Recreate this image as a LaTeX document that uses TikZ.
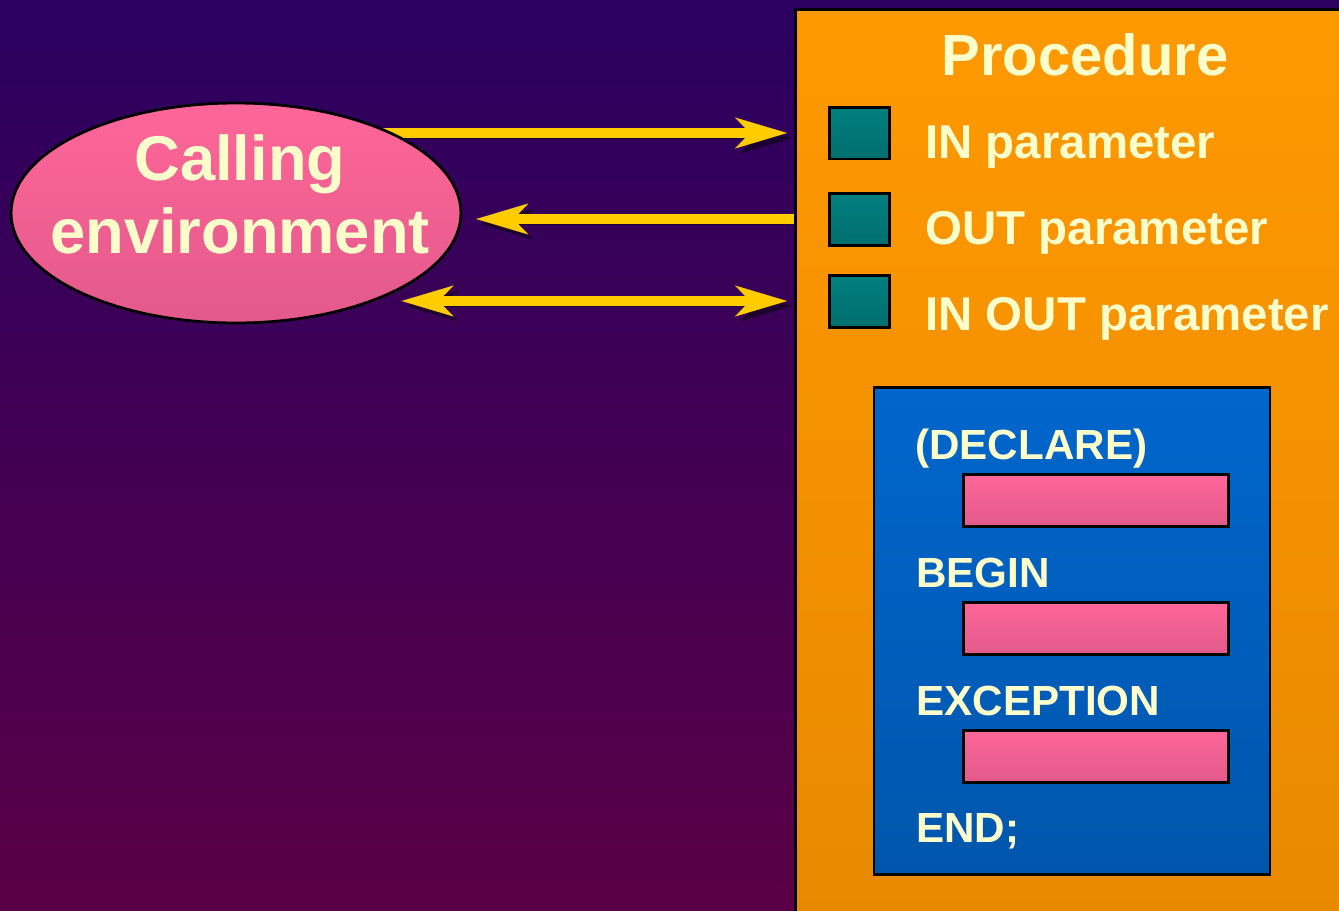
\documentclass[tikz,border=0pt]{standalone}
\usepackage{fontspec}
\setmainfont{Liberation Sans}
\usetikzlibrary{arrows.meta,shapes,calc,positioning}
\definecolor{BgTop}{RGB}{42,0,96}
\definecolor{BgBot}{RGB}{90,0,70}
\definecolor{ProcOrange}{RGB}{255,153,0}
\definecolor{ProcOrangeD}{RGB}{232,137,0}
\definecolor{BlockBlue}{RGB}{0,102,204}
\definecolor{BlockBlueD}{RGB}{0,86,172}
\definecolor{PinkL}{RGB}{255,102,153}
\definecolor{PinkD}{RGB}{226,90,138}
\definecolor{TealL}{RGB}{0,128,128}
\definecolor{TealD}{RGB}{0,110,110}
\definecolor{Cream}{RGB}{255,255,204}
\definecolor{ArrowGold}{RGB}{255,204,0}
\pgfdeclarelayer{back}
\pgfdeclarelayer{wires}
\pgfsetlayers{back,wires,main}
\tikzstyle{flow}     =[draw=ArrowGold, line width=0.2cm,
                       >={Stealth[length=1.04cm,width=0.62cm,inset=0.3cm,line width=0.1pt]},
                       preaction={draw=black, opacity=0.45,
                       transform canvas={shift={(0.1cm,-0.1cm)}}}]
\tikzstyle{procbox}  =[draw=black, line width=0.06cm, top color=ProcOrange,
                       bottom color=ProcOrangeD, anchor=north west, inner sep=0pt]
\tikzstyle{callshape}=[ellipse, draw=black, line width=0.055cm, top color=PinkL,
                       bottom color=PinkD, minimum width=9cm, minimum height=4.4cm,
                       inner sep=0pt]
\tikzstyle{calltext} =[text=Cream, font=\fontsize{36}{41.5}\selectfont\bfseries,
                       align=center]
\tikzstyle{parbox}   =[draw=black, line width=0.06cm, top color=TealL,
                       bottom color=TealD, minimum width=1.2cm, minimum height=1.04cm,
                       inner sep=0pt]
\tikzstyle{blockbox} =[draw=black, line width=0.05cm, top color=BlockBlue,
                       bottom color=BlockBlueD, minimum width=7.92cm,
                       minimum height=9.74cm, inner sep=0pt]
\tikzstyle{codebar}  =[draw=black, line width=0.06cm, top color=PinkL,
                       bottom color=PinkD, minimum width=5.3cm, minimum height=1.04cm,
                       inner sep=0pt]
\tikzstyle{headline} =[text=Cream, font=\fontsize{33}{40}\selectfont\bfseries,
                       anchor=base, inner sep=0pt]
\tikzstyle{parlabel} =[text=Cream, font=\fontsize{27}{32}\selectfont\bfseries,
                       anchor=base west, inner sep=0pt]
\tikzstyle{kwlabel}  =[text=Cream, font=\fontsize{24}{29}\selectfont\bfseries,
                       anchor=base west, inner sep=0pt]

\begin{document}
\begin{tikzpicture}[x=0.02cm, y=-0.02cm]
    \useasboundingbox (0,0) rectangle (1339,910);
    \clip (0,0) rectangle (1339,910);
    \begin{pgfonlayer}{back}
        \fill[top color=BgTop, bottom color=BgBot] (0,0) rectangle (1339,910);
    \end{pgfonlayer}
    % procedure side
    \node[procbox, minimum width=11.2cm, minimum height=18.4cm] (proc) at (794,8) {};
    \node[headline] (ttl) at (1085,75) {Procedure};
    \foreach \y [count=\i] in {133,219,301} { \node[parbox] (sq\i) at (859,\y) {}; }
    \node[parlabel] (lin) at (925,158) {IN parameter};
    \node[parlabel] (lout) at (925,244) {OUT parameter};
    \node[parlabel] (linout) at (925,330) {IN OUT parameter};
    \node[blockbox] (block) at (1072,631) {};
    \node[kwlabel] (kdecl) at (915,459) {(DECLARE)};
    \node[kwlabel] (kbegin) at (916,587) {BEGIN};
    \node[kwlabel] (kexc) at (916,715) {EXCEPTION};
    \node[kwlabel] (kend) at (916,842) {END;};
    \foreach \y [count=\i] in {500,628,756} { \node[codebar] (bar\i) at (1096,\y) {}; }
    % caller
    \node[callshape] (call) at (236,213) {};
    \node[calltext] (calltxt) at (240,194) {Calling\\environment};
    \begin{pgfonlayer}{wires}
        \draw[flow, ->, shorten >=0.14cm] (call.center |- sq1) -- (proc.west |- sq1);
        \draw[flow, ->, shorten >=0.28cm] (proc.west |- sq2) -- (call.east |- sq2);
        \draw[flow, <->, shorten <=0.58cm, shorten >=0.14cm] (call.-33 |- sq3)
            -- (proc.west |- sq3);
    \end{pgfonlayer}
\end{tikzpicture}
\end{document}
